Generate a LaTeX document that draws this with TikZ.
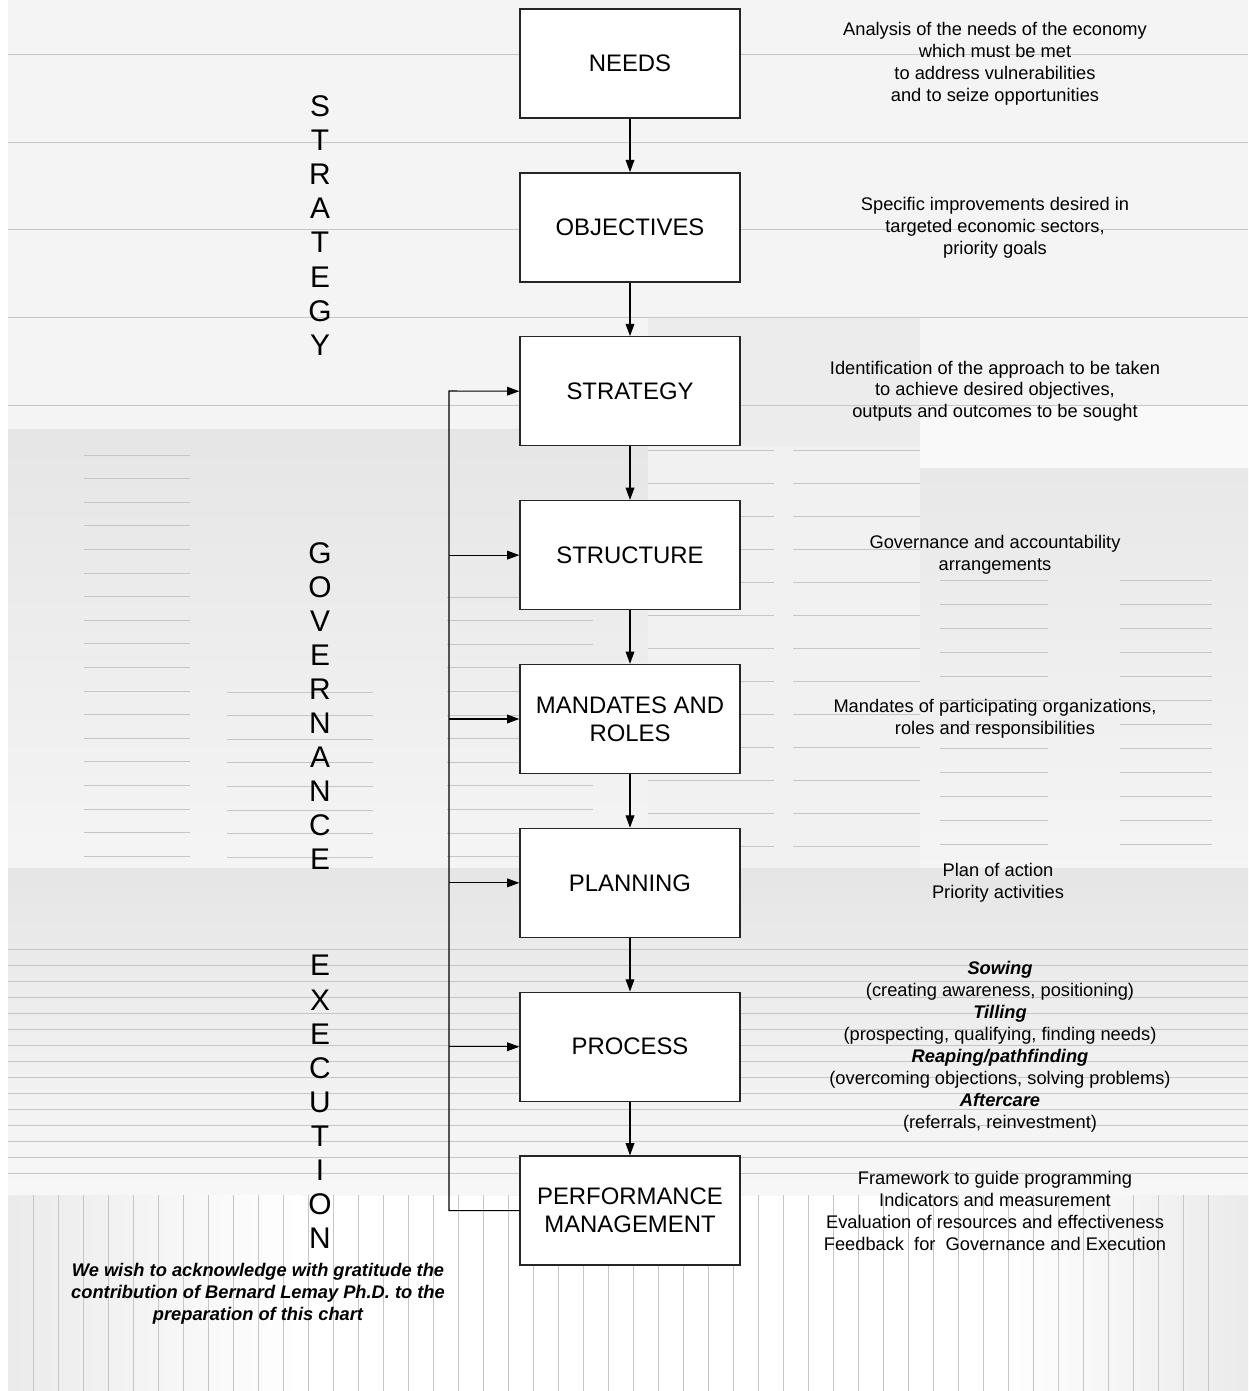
\documentclass[tikz,border=0pt]{standalone}
\usepackage{fontspec}
\setmainfont{Liberation Sans}
\usetikzlibrary{positioning,arrows.meta}

\begin{document}
\begin{tikzpicture}[x=0.02cm,y=-0.02cm,>={Triangle[length=7pt,width=5pt]},
                    node distance=1.07cm,semithick]
  \tikzstyle{stage}=[draw=black!85,line width=0.8pt,fill=white,minimum width=4.4cm,
                     minimum height=2.18cm,align=center,inner sep=2pt,
                     font=\fontsize{13.6}{16}\selectfont]
  \tikzstyle{desc}=[align=center,inner sep=0pt,font=\fontsize{10.4}{12.5}\selectfont]
  \tikzstyle{phase}=[align=center,inner sep=0pt,font=\fontsize{17}{19.4}\selectfont]
  \tikzstyle{note}=[align=center,inner sep=0pt,font=\bfseries\itshape\fontsize{10.4}{12.5}\selectfont]
  \tikzstyle{rule}=[gray!45,line width=0.5pt]

  \useasboundingbox (0,0) rectangle (1248,1391);
  % background bands
  \fill[white] (0,0) rectangle (1248,1391);
  \fill[gray!9] (8,0) rectangle (1248,430);
  \fill[gray!15] (648,318) rectangle (920,446);
  \shade[top color=gray!20,bottom color=gray!8] (8,430) rectangle (648,870);
  \fill[gray!11] (648,446) rectangle (920,870);
  \fill[gray!5] (920,405) rectangle (1248,468);
  \shade[top color=gray!18,bottom color=gray!8] (920,468) rectangle (1248,870);
  \shade[top color=gray!20,bottom color=gray!6] (8,868) rectangle (1248,1195);
  \shade[left color=gray!16,right color=white] (8,1195) rectangle (300,1391);
  \shade[left color=white,right color=gray!16] (1000,1195) rectangle (1248,1391);
  % background rules
  \foreach \y in {54,142,229,317,405} \draw[rule] (8,\y) -- (1248,\y);
  \foreach \y in {455,478.6,...,860} \draw[rule] (84,\y) -- (190,\y);
  \foreach \y in {597,620.6,...,860} \draw[rule] (447,\y) -- (593,\y);
  \foreach \y in {692,715.6,...,860} \draw[rule] (227,\y) -- (373,\y);
  \foreach \y in {450,483,...,850} {
    \draw[rule] (648,\y) -- (774,\y);
    \draw[rule] (793,\y) -- (920,\y);
  }
  \foreach \y in {580,604,...,860} {
    \draw[rule] (940,\y) -- (1048,\y);
    \draw[rule] (1120,\y) -- (1212,\y);
  }
  \foreach \y in {949,965,...,1181} \draw[rule] (8,\y) -- (1248,\y);
  \foreach \x in {33,58,...,1230} \draw[rule] (\x,1195) -- (\x,1391);

  % stages
  \node[stage] (needs) at (630,63.5) {NEEDS};
  \node[stage] (objectives) [below=of needs] {OBJECTIVES};
  \node[stage] (strategy) [below=of objectives] {STRATEGY};
  \node[stage] (structure) [below=of strategy] {STRUCTURE};
  \node[stage] (mandates) [below=of structure] {MANDATES AND\\ROLES};
  \node[stage] (planning) [below=of mandates] {PLANNING};
  \node[stage] (process) [below=of planning] {PROCESS};
  \node[stage] (perf) [below=of process] {PERFORMANCE\\MANAGEMENT};

  % phases
  \node[phase] (strat-l) at (320,225.5) {S\\T\\R\\A\\T\\E\\G\\Y};
  \node[phase] (gov-l) at (320,706) {G\\O\\V\\E\\R\\N\\A\\N\\C\\E};
  \node[phase] (exec-l) at (320,1102) {E\\X\\E\\C\\U\\T\\I\\O\\N};

  % descriptions
  \coordinate (dcol) at (995,0);
  \node[desc] (needs-d) at (needs -| dcol) {Analysis of the needs of the economy\\which must be met\\to address vulnerabilities\\and to seize opportunities};
  \node[desc] (objectives-d) at (objectives -| dcol) {Specific improvements desired in\\targeted economic sectors,\\priority goals};
  \node[desc] (strategy-d) at (strategy -| dcol) {Identification of the approach to be taken\\to achieve desired objectives,\\outputs and outcomes to be sought};
  \node[desc] (structure-d) at (structure -| dcol) {Governance and accountability\\arrangements};
  \node[desc] (mandates-d) at (mandates -| dcol) {Mandates of participating organizations,\\roles and responsibilities};
  \node[desc,xshift=0.06cm] (planning-d) at (planning -| dcol) {Plan of action\\Priority activities};
  \node[desc,xshift=0.1cm] (process-d) at (process -| dcol) {\textbf{\textit{Sowing}}\\(creating awareness, positioning)\\\textbf{\textit{Tilling}}\\(prospecting, qualifying, finding needs)\\\textbf{\textit{Reaping/pathfinding}}\\(overcoming objections, solving problems)\\\textbf{\textit{Aftercare}}\\(referrals, reinvestment)};
  \node[desc] (perf-d) at (perf -| dcol) {Framework to guide programming\\Indicators and measurement\\Evaluation of resources and effectiveness\\Feedback\ \ for\ \ Governance and Execution};

  \node[note] (thanks) at (258,1294) {We wish to acknowledge with gratitude the\\contribution of Bernard Lemay Ph.D. to the\\preparation of this chart};

  % flow
  \foreach \a/\b in {needs/objectives,objectives/strategy,strategy/structure,structure/mandates,
                     mandates/planning,planning/process,process/perf}
    \draw[->] (\a) -- (\b);
  \coordinate (fb) at (449,391);
  \draw[->] (perf.west) -| (fb) -- (strategy.west);
  \foreach \n in {structure,mandates,planning,process}
    \draw[->] (fb |- \n.west) -- (\n.west);
\end{tikzpicture}
\end{document}
